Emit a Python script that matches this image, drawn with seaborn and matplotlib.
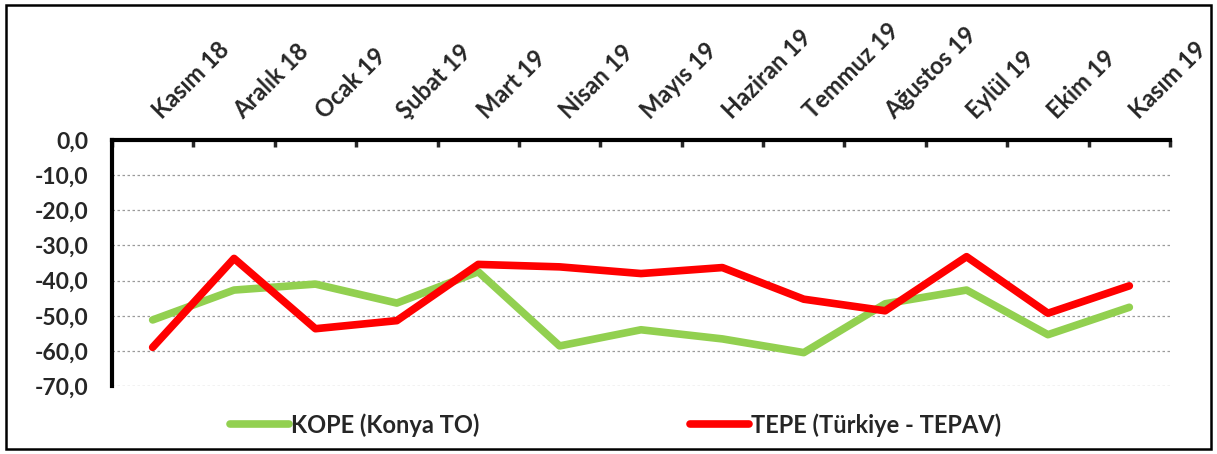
import numpy as np
import pandas as pd
import matplotlib
matplotlib.use("Agg")

import matplotlib.pyplot as plt
import seaborn as sns
from matplotlib.patches import Rectangle
from matplotlib.ticker import FixedLocator, FuncFormatter
from matplotlib.transforms import ScaledTranslation

# veri
months = ["Kasım 18", "Aralık 18", "Ocak 19", "Şubat 19", "Mart 19", "Nisan 19",
          "Mayıs 19", "Haziran 19", "Temmuz 19", "Ağustos 19", "Eylül 19",
          "Ekim 19", "Kasım 19"]
kope = [-51.2, -42.7, -41.0, -46.4, -37.5, -58.6, -54.0, -56.6, -60.5,
        -46.6, -42.7, -55.4, -47.6]
tepe = [-59.0, -33.7, -53.7, -51.4, -35.4, -36.1, -38.0, -36.3, -45.3,
        -48.6, -33.2, -49.3, -41.5]
series_names = ["KOPE (Konya TO)", "TEPE (Türkiye - TEPAV)"]
y_ticks = [0, -10, -20, -30, -40, -50, -60, -70]

df = pd.DataFrame({
    "idx": list(range(len(months))) * 2,
    "value": kope + tepe,
    "series": [series_names[0]] * len(months) + [series_names[1]] * len(months),
})

sns.set_style("white")
plt.rcParams["font.family"] = ["Lato", "DejaVu Sans"]
plt.rcParams["font.weight"] = "bold"

fig = plt.figure(figsize=(12.17, 4.54), dpi=100)
ax = fig.add_axes([0.092, 0.1498, 0.8694, 0.5418])

sns.lineplot(data=df, x="idx", y="value", hue="series",
             palette=["#92D050", "#FF0000"], linewidth=5.5, ax=ax,
             solid_capstyle="round", legend=False)

ax.set_xlim(-0.5, len(months) - 0.5)
ax.set_ylim(-70, 0)
ax.set_xlabel("")
ax.set_ylabel("")

# x ekseni üstte
ax.xaxis.tick_top()
ax.xaxis.set_major_locator(FixedLocator(np.arange(-0.5, len(months), 1.0)))
ax.xaxis.set_major_formatter(FuncFormatter(lambda v, p: ""))
ax.xaxis.set_minor_locator(FixedLocator(np.arange(len(months))))
ax.set_xticklabels(months, minor=True, rotation=45, ha="left", va="bottom",
                   rotation_mode="anchor", fontsize=17, fontweight="bold")
ax.tick_params(axis="x", which="major", direction="in", length=5, width=2.5, top=True)
ax.tick_params(axis="x", which="minor", length=0, pad=14, top=True)
shift = ScaledTranslation(0.12, -0.02, fig.dpi_scale_trans)
for lbl in ax.get_xticklabels(minor=True):
    lbl.set_transform(lbl.get_transform() + shift)

ax.set_yticks(y_ticks)
ax.set_yticklabels([f"{v:.1f}".replace(".", ",") for v in y_ticks],
                   fontsize=16.5, fontweight="bold")
ax.tick_params(axis="y", direction="out", length=6, width=2.5, pad=11)

ax.yaxis.grid(True, linestyle=(0, (2, 2)), color="#9a9a9a", linewidth=0.9)
ax.set_axisbelow(True)

for s in ["bottom", "right"]:
    ax.spines[s].set_visible(False)
ax.spines["top"].set_linewidth(3)
ax.spines["left"].set_linewidth(3)
ax.spines["top"].set_color("black")
ax.spines["left"].set_color("black")

# lejant
handles = [plt.Line2D([0], [0], color="#92D050", lw=5.5, solid_capstyle="round"),
           plt.Line2D([0], [0], color="#FF0000", lw=5.5, solid_capstyle="round")]
fig.legend(handles, series_names, loc="center", bbox_to_anchor=(0.506, 0.064),
           ncol=2, frameon=False, handlelength=2.5, handletextpad=0.1,
           columnspacing=8.9, prop={"family": "Lato", "weight": "bold", "size": 17})

# çerçeve
fig.patches.append(Rectangle((0.005, 0.012), 0.99, 0.976, transform=fig.transFigure,
                             fill=False, edgecolor="black", linewidth=1.8))

fig.savefig("out.png", dpi=100)
